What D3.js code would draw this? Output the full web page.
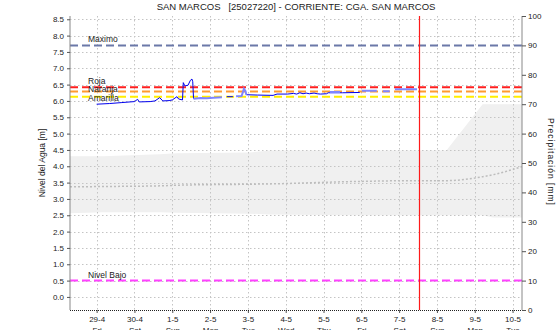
<!DOCTYPE html>
<html>
<head>
<meta charset="utf-8">
<script src="https://cdn.jsdelivr.net/npm/d3@7"></script>
<style>
  html, body { margin: 0; padding: 0; background: #fff; }
  svg { display: block; font-family: "Liberation Sans", Arial, sans-serif; }
</style>
</head>
<body>
<svg id="chart" width="559" height="330"></svg>
<script>
// ---- data ----
const title = "SAN MARCOS   [25027220] - CORRIENTE: CGA. SAN MARCOS";

// observed water level [m]; null = no reading
const obsTimes = [
  "2022-04-29 00:00","2022-04-29 08:00","2022-04-29 16:00","2022-04-30 00:00","2022-04-30 02:00",
  "2022-04-30 03:00","2022-04-30 10:00","2022-04-30 13:00","2022-04-30 16:00","2022-04-30 18:00",
  "2022-04-30 22:00","2022-05-01 00:00","2022-05-01 03:00","2022-05-01 04:00","2022-05-01 06:30",
  "2022-05-01 07:00","2022-05-01 08:00","2022-05-01 10:00","2022-05-01 11:30","2022-05-01 12:30",
  "2022-05-01 13:00","2022-05-01 13:30","2022-05-02 00:00",
  "2022-05-02 10:40","2022-05-02 14:30","2022-05-02 18:00",
  "2022-05-02 23:00","2022-05-03 06:00","2022-05-03 16:00","2022-05-03 18:30","2022-05-04 01:00",
  "2022-05-04 05:00","2022-05-04 07:00","2022-05-04 09:00","2022-05-04 11:00","2022-05-04 13:00",
  "2022-05-04 15:00","2022-05-04 18:00","2022-05-04 20:00","2022-05-04 22:00","2022-05-05 02:00",
  "2022-05-05 03:00","2022-05-05 12:00","2022-05-05 23:00"
];
const obsValues = [
  5.90, 5.92, 5.95, 5.98, 6.05,
  5.97, 5.98, 6.00, 6.10, 6.00,
  6.01, 6.03, 6.13, 6.06, 6.03,
  6.56, 6.46, 6.48, 6.63, 6.67,
  6.59, 6.07, null,
  6.13, 6.13, null,
  6.19, 6.18, 6.17, 6.21, 6.21,
  6.23, 6.21, 6.25, 6.22, 6.24,
  6.22, 6.24, 6.22, 6.21, 6.22,
  6.25, 6.25, 6.26
];

// transmitted water level [m]; null = no reading
const txTimes = [
  "2022-05-01 13:30","2022-05-01 18:00","2022-05-01 22:00","2022-05-02 02:00","2022-05-02 07:30","2022-05-02 08:00",
  "2022-05-02 16:30","2022-05-02 20:00","2022-05-02 21:30","2022-05-02 22:30","2022-05-02 23:00","2022-05-03 00:00",
  "2022-05-05 04:00","2022-05-05 10:30","2022-05-05 11:00",
  "2022-05-06 00:20","2022-05-06 09:50","2022-05-06 10:00",
  "2022-05-06 13:40","2022-05-06 18:00","2022-05-06 18:30",
  "2022-05-06 21:20","2022-05-07 11:20"
];
const txValues = [
  6.07, 6.09, 6.08, 6.10, 6.11, null,
  6.14, 6.15, 6.37, 6.30, 6.19, null,
  6.27, 6.27, null,
  6.31, 6.31, null,
  6.30, 6.30, null,
  6.36, 6.36
];

// historical range of the level [m]
const bandTimes = [
  "2022-04-28 07:05","2022-04-29 04:00","2022-04-30 16:00","2022-05-01 03:00","2022-05-03 01:00",
  "2022-05-03 14:00","2022-05-05 17:00","2022-05-07 13:00","2022-05-08 06:00","2022-05-09 05:00",
  "2022-05-09 11:30","2022-05-10 06:00"
];
const bandUpper = [4.31, 4.31, 4.37, 4.40, 4.42, 4.48, 4.48, 4.48, 4.48, 5.90, 5.90, 5.90];
const bandLower = [2.56, 2.59, 2.59, 2.58, 2.55, 2.52, 2.50, 2.50, 2.50, 2.50, 2.43, 2.43];
const bandMid   = [3.37, 3.38, 3.40, 3.42, 3.45, 3.46, 3.53, 3.56, 3.56, 3.68, 3.74, 3.99];

// alert levels [m]
const levelNames  = ["Maximo", "Roja", "Naranja", "Amarilla", "Nivel Bajo"];
const levelValues = [7.70, 6.42, 6.29, 6.13, 0.50];
const levelColors = ["#6b78a8", "#ff2020", "#ff9a30", "#ffee00", "#ff40ff"];

const nowTime = "2022-05-07 12:45";
const xStart = "2022-04-28 07:05", xEnd = "2022-05-10 06:00";

const leftTicks  = d3.range(0, 8.51, 0.5);
const rightTicks = d3.range(0, 101, 10);

// ---- layout ----
const parse = d3.timeParse("%Y-%m-%d %H:%M");
const L = 70, R = 522, T = 16, B = 310;

const x  = d3.scaleTime().domain([parse(xStart), parse(xEnd)]).range([L, R]);
const yL = d3.scaleLinear().domain([-0.4, 8.6]).range([B, T]);
const yR = d3.scaleLinear().domain([0, 100]).range([B, T]);

const svg = d3.select("#chart");
const dayTicks = d3.timeDay.range(d3.timeDay.ceil(parse(xStart)), parse(xEnd));

// range band
const band = bandTimes.map((t, i) => ({ t: parse(t), hi: bandUpper[i], lo: bandLower[i], mid: bandMid[i] }));
svg.append("path")
  .datum(band)
  .attr("fill", "#f0f0f0")
  .attr("d", d3.area().x(d => x(d.t)).y0(d => yL(d.lo)).y1(d => yL(d.hi)));

// grid
const grid = svg.append("g").attr("stroke", "#c4c4c4").attr("stroke-dasharray", "1.5,2.5").attr("stroke-width", 1);
grid.selectAll("line.h").data(leftTicks).join("line")
  .attr("x1", L).attr("x2", R)
  .attr("y1", d => Math.round(yL(d)) + 0.5).attr("y2", d => Math.round(yL(d)) + 0.5);
grid.selectAll("line.v").data(dayTicks).join("line")
  .attr("y1", T).attr("y2", B)
  .attr("x1", d => Math.round(x(d)) + 0.5).attr("x2", d => Math.round(x(d)) + 0.5);

// median of the range
svg.append("path")
  .datum(band)
  .attr("fill", "none").attr("stroke", "#bdbdbd").attr("stroke-width", 1.5).attr("stroke-dasharray", "2,2")
  .attr("d", d3.line().curve(d3.curveMonotoneX).x(d => x(d.t)).y(d => yL(d.mid)));

// alert levels
levelValues.forEach((v, i) => {
  svg.append("line")
    .attr("x1", L).attr("x2", R).attr("y1", yL(v)).attr("y2", yL(v))
    .attr("stroke", levelColors[i]).attr("stroke-width", 2).attr("stroke-dasharray", "8,4");
});
levelValues.forEach((v, i) => {
  const dy = [-3, -3, 0.5, 4, -3][i];
  svg.append("text")
    .attr("x", 88).attr("y", yL(v) + dy)
    .attr("font-size", 8.5).attr("fill", "#222")
    .text(levelNames[i]);
});

// water levels
const mk = (ts, vs) => ts.map((t, i) => ({ t: parse(t), v: vs[i] }));
const lineGen = d3.line().defined(d => d.v !== null).x(d => x(d.t)).y(d => yL(d.v));
svg.append("path").datum(mk(obsTimes, obsValues))
  .attr("fill", "none").attr("stroke", "#0000ee").attr("stroke-width", 1).attr("d", lineGen);
svg.append("path").datum(mk(txTimes, txValues))
  .attr("fill", "none").attr("stroke", "#7f86ff").attr("stroke-width", 2).attr("d", lineGen);

// current time
const xNow = Math.round(x(parse(nowTime))) + 0.5;
svg.append("line")
  .attr("x1", xNow).attr("x2", xNow)
  .attr("y1", T).attr("y2", B)
  .attr("stroke", "#ff1a1a").attr("stroke-width", 1.2);

// axes
const fmt = d3.format(".1f");
const axL = svg.append("g").attr("transform", `translate(${L},0)`)
  .call(d3.axisLeft(yL).tickValues(leftTicks).tickFormat(fmt).tickSize(3).tickPadding(3));
const axR = svg.append("g").attr("transform", `translate(${R},0)`)
  .call(d3.axisRight(yR).tickValues(rightTicks).tickSize(4).tickPadding(2));
[axL, axR].forEach(a => {
  a.select(".domain").attr("stroke", "#888").attr("d", `M0,${T}V${B}`);
  a.selectAll(".tick line").attr("stroke", "#555");
  a.selectAll("text").attr("font-size", 8).attr("fill", "#222").attr("font-family", null);
});

const axB = svg.append("g").attr("transform", `translate(0,${B})`)
  .call(d3.axisBottom(x).tickValues(dayTicks).tickSize(3).tickFormat(""));
axB.select(".domain").remove();
axB.selectAll(".tick line").attr("stroke", "#555");
svg.append("line").attr("x1", L).attr("x2", R).attr("y1", B + 0.5).attr("y2", B + 0.5)
  .attr("stroke", "#222").attr("stroke-dasharray", "1,1");
const fDate = d3.timeFormat("%-d-%-m"), fDay = d3.timeFormat("%a");
axB.selectAll(".tick").each(function(d) {
  const g = d3.select(this);
  g.append("text").attr("y", 12).attr("text-anchor", "middle").attr("font-size", 8).attr("fill", "#222").text(fDate(d));
  g.append("text").attr("y", 23).attr("text-anchor", "middle").attr("font-size", 8).attr("fill", "#222").text(fDay(d));
});

// titles
svg.append("text").attr("x", 296).attr("y", 10).attr("text-anchor", "middle")
  .attr("font-size", 9.5).attr("fill", "#222").style("white-space", "pre").text(title);
svg.append("text").attr("transform", `translate(45,163) rotate(-90)`).attr("text-anchor", "middle")
  .attr("font-size", 8.5).attr("fill", "#222").text("Nivel del Agua [m]");
svg.append("text").attr("transform", `translate(548,162) rotate(90)`).attr("text-anchor", "middle")
  .attr("font-size", 8.5).attr("fill", "#222").attr("letter-spacing", 1).text("Precipitación [mm]");
</script>
</body>
</html>
